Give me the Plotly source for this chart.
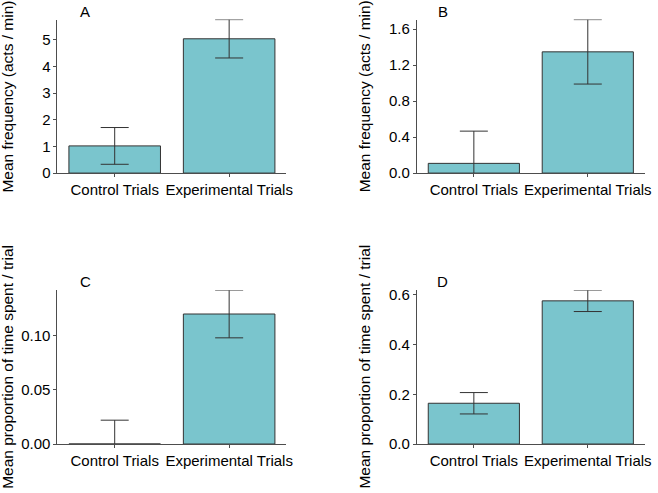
import plotly.graph_objects as go

categories = ["Control Trials", "Experimental Trials"]

freq_a = [1.02, 5.04]
err_a = [0.69, 0.72]
freq_b = [0.108, 1.347]
err_b = [0.358, 0.358]
prop_c = [0.0, 0.120]
err_c = [0.022, 0.022]
prop_d = [0.164, 0.576]
err_d = [0.043, 0.043]

panel_labels = ["A", "B", "C", "D"]
ytitle_freq = "Mean frequency (acts / min)"
ytitle_prop = "Mean proportion of time spent / trial"

ticks_a = [0, 1, 2, 3, 4, 5]
ticks_b = [0.0, 0.4, 0.8, 1.2, 1.6]
ticks_c = [0.00, 0.05, 0.10]
ticks_d = [0.0, 0.2, 0.4, 0.6]

W, H = 658, 493
FONT = "Liberation Sans, Arial, Helvetica, sans-serif"
BAR = "#7AC5CD"
EDGE = "#333333"
AXC = "#4d4d4d"

fig = go.Figure()

panels = [
    (freq_a, err_a, "x", "y"),
    (freq_b, err_b, "x2", "y2"),
    (prop_c, err_c, "x3", "y3"),
    (prop_d, err_d, "x4", "y4"),
]
for vals, errs, xa, ya in panels:
    fig.add_trace(go.Bar(
        x=[1, 2], y=vals, width=0.8, xaxis=xa, yaxis=ya,
        marker=dict(color=BAR, line=dict(color=EDGE, width=1)),
        error_y=dict(type="data", array=errs, arrayminus=errs, visible=True,
                     color=EDGE, thickness=1, width=14),
        showlegend=False, hoverinfo="skip",
    ))

def px_x(a, b):
    return [a / W, b / W]

def px_y(top, bottom):
    return [(H - bottom) / H, (H - top) / H]

xdoms = [px_x(58, 289), px_x(420.7, 650.7), px_x(58, 289), px_x(420.7, 650.7)]
ydoms = [px_y(16, 173.3), px_y(16, 173.3), px_y(293.3, 451), px_y(293.3, 451)]
yranges = [
    [0, freq_a[1] + err_a[1]],
    [0, freq_b[1] + err_b[1]],
    [0, prop_c[1] + err_c[1]],
    [0, prop_d[1] + err_d[1]],
]
yticks = [
    (ticks_a, [str(t) for t in ticks_a]),
    (ticks_b, ["%.1f" % t for t in ticks_b]),
    (ticks_c, ["%.2f" % t for t in ticks_c]),
    (ticks_d, ["%.1f" % t for t in ticks_d]),
]

layout = dict(
    width=W, height=H, margin=dict(l=0, r=0, t=0, b=0),
    paper_bgcolor="white", plot_bgcolor="white",
    font=dict(family=FONT, size=15, color="black"),
    bargap=0.2,
)
for i in range(4):
    s = "" if i == 0 else str(i + 1)
    layout["xaxis" + s] = dict(
        domain=xdoms[i], range=[0.5, 2.5], anchor="y" + s,
        tickvals=[1, 2], ticktext=categories, ticks="outside", ticklen=3,
        tickcolor=AXC, showline=True, linecolor=AXC, linewidth=1,
        showgrid=False, zeroline=False, fixedrange=True,
        tickfont=dict(size=15, color="black"),
    )
    layout["yaxis" + s] = dict(
        domain=ydoms[i], range=yranges[i], anchor="x" + s,
        tickvals=yticks[i][0], ticktext=yticks[i][1],
        ticks="outside", ticklen=3, tickcolor=AXC,
        showline=True, linecolor=AXC, linewidth=1,
        showgrid=False, zeroline=False, fixedrange=True,
        tickfont=dict(size=15, color="black"),
    )
fig.update_layout(**layout)

label_pos = [(86, 8), (447, 8), (86, 284), (447, 284)]
for lab, (lx, ly) in zip(panel_labels, label_pos):
    fig.add_annotation(text=lab, x=lx / W, y=(H - ly) / H, xref="paper", yref="paper",
                       showarrow=False, xanchor="center", yanchor="middle",
                       font=dict(size=15, color="black", family=FONT))

title_pos = [(8, 95, ytitle_freq), (368, 95, ytitle_freq),
             (8, 372, ytitle_prop), (368, 372, ytitle_prop)]
for tx, ty, t in title_pos:
    fig.add_annotation(text=t, x=tx / W, y=(H - ty) / H, xref="paper", yref="paper",
                       showarrow=False, xanchor="center", yanchor="middle", textangle=-90,
                       font=dict(size=15.5, color="black", family=FONT))

fig.write_html(
    "out.html",
    config={"responsive": False, "displayModeBar": False},
    post_script="document.body.style.margin='0';document.body.style.overflow='hidden';",
)
